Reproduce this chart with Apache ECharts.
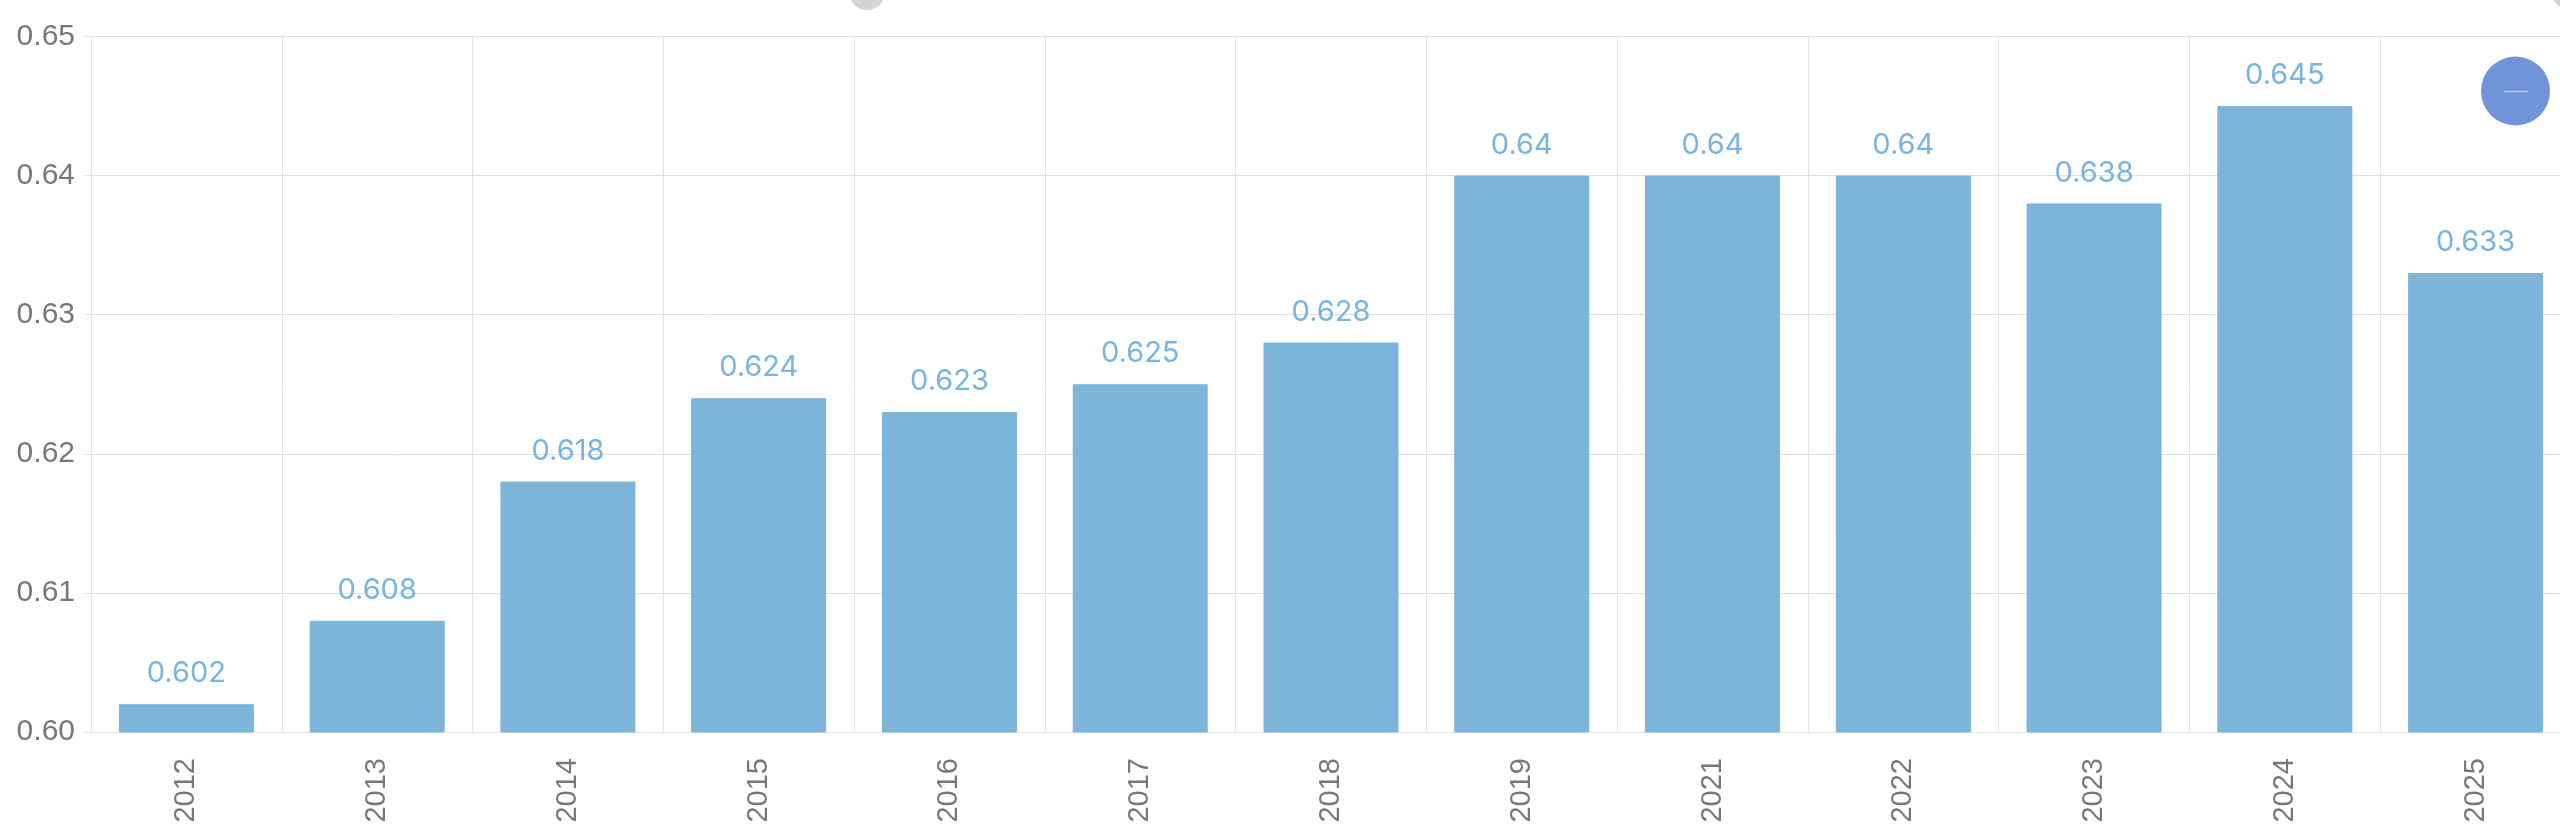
<!DOCTYPE html>
<html>
<head>
<meta charset="utf-8">
<style>html,body{margin:0;padding:0;background:#fff;overflow:hidden}#c{width:2560px;height:834px}</style>
<script src="https://cdn.jsdelivr.net/npm/echarts@6/dist/echarts.min.js"></script>
</head>
<body>
<div id="c"></div>
<script>
const categories = ['2012','2013','2014','2015','2016','2017','2018','2019','2021','2022','2023','2024','2025'];
const values = [0.602,0.608,0.618,0.624,0.623,0.625,0.628,0.64,0.64,0.64,0.638,0.645,0.633];
const chart = echarts.init(document.getElementById('c'), null, {renderer:'canvas'});
chart.setOption({
  animation:false,
  backgroundColor:'#fff',
  grid:{left:91,top:36.5,width:2480,height:695.5,containLabel:false,outerBoundsMode:'none'},
  xAxis:{
    type:'category',data:categories,
    axisLine:{show:true,lineStyle:{color:'#e2e2e2',width:1}},
    axisTick:{show:false},
    splitLine:{show:true,lineStyle:{color:'#e2e2e2',width:1}},
    axisLabel:{rotate:90,color:'#777777',fontSize:29,fontFamily:'Liberation Sans',margin:26,interval:0}
  },
  yAxis:{
    type:'value',min:0.6,max:0.65,interval:0.01,
    axisLine:{show:false},
    axisTick:{show:true,length:6,lineStyle:{color:'#e0e0e0',width:1}},
    splitLine:{show:true,lineStyle:{color:'#dedede',width:1}},
    axisLabel:{color:'#777777',fontSize:30,fontFamily:'Liberation Sans',margin:16,formatter:v=>v.toFixed(2)}
  },
  series:[{
    type:'bar',data:values,barWidth:135,
    itemStyle:{color:'#7cb4da',borderColor:'#7cb4da',borderWidth:1},
    label:{show:true,position:'top',distance:16,color:'#78b4dc',fontSize:29,fontFamily:'Inter'}
  }],
  graphic:[
    {type:'circle',shape:{cx:867,cy:-8,r:18},style:{fill:'#d4d4d4'},silent:true},
    {type:'circle',shape:{cx:2570,cy:-8,r:18},style:{fill:'#d4d4d4'},silent:true},
    {type:'circle',shape:{cx:2515.5,cy:91,r:34.5},style:{fill:'#7093d9'},silent:true},
    {type:'line',shape:{x1:2504,y1:91.5,x2:2528,y2:91.5},style:{stroke:'#b9c9ec',lineWidth:1.5},silent:true}
  ]
});
</script>
</body>
</html>
